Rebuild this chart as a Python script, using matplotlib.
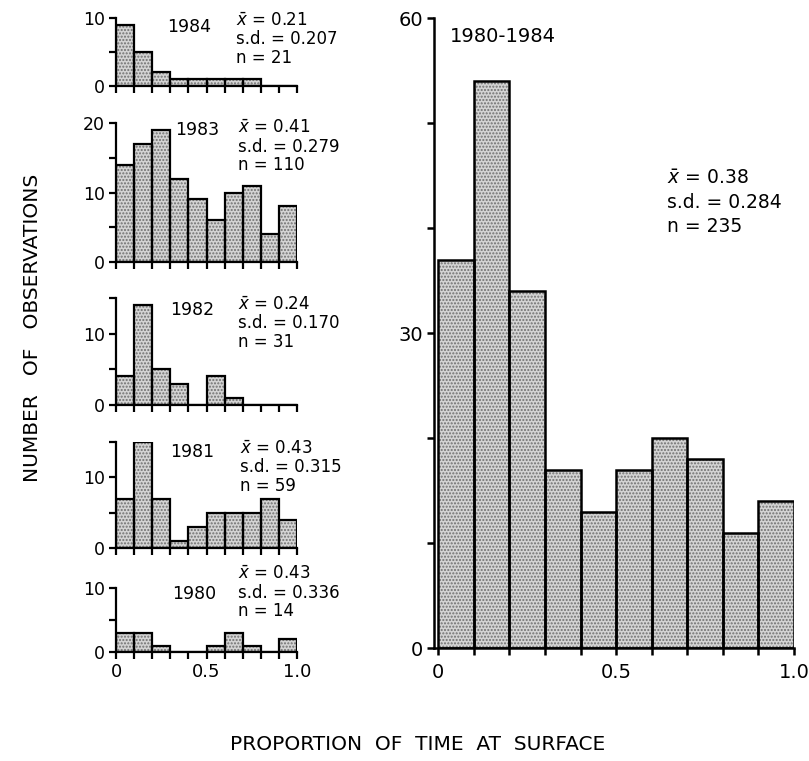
import matplotlib
matplotlib.use("Agg")
import matplotlib.pyplot as plt
from matplotlib.ticker import MultipleLocator

plt.rcParams['font.family'] = ['DejaVu Sans']
plt.rcParams['mathtext.fontset'] = 'dejavusans'

bin_left = [0.0, 0.1, 0.2, 0.3, 0.4, 0.5, 0.6, 0.7, 0.8, 0.9]
bin_width = 0.1

years = ['1984', '1983', '1982', '1981', '1980']
counts_1984 = [9, 5, 2, 1, 1, 1, 1, 1, 0, 0]
counts_1983 = [14, 17, 19, 12, 9, 6, 10, 11, 4, 8]
counts_1982 = [4, 14, 5, 3, 0, 4, 1, 0, 0, 0]
counts_1981 = [7, 15, 7, 1, 3, 5, 5, 5, 7, 4]
counts_1980 = [3, 3, 1, 0, 0, 1, 3, 1, 0, 2]
counts_all = [37, 54, 34, 17, 13, 17, 20, 18, 11, 14]

means = ['0.21', '0.41', '0.24', '0.43', '0.43']
sds = ['0.207', '0.279', '0.170', '0.315', '0.336']
ns = ['21', '110', '31', '59', '14']
mean_all, sd_all, n_all = '0.38', '0.284', '235'

y_max = [10, 20, 15, 15, 10]
y_labels = [[0, 10], [0, 10, 20], [0, 10], [0, 10], [0, 10]]

W, H = 809, 761
fig = plt.figure(figsize=(W / 100, H / 100), dpi=100)


def px_axes(x0, y0, x1, y1):
    # pixel box (top-left origin) -> figure axes
    return fig.add_axes([x0 / W, 1 - y1 / H, (x1 - x0) / W, (y1 - y0) / H])


def px_text(x, y, s, size=12.5, **kw):
    fig.text(x / W, 1 - y / H, s, fontsize=size, va='center', ha='left', **kw)


def draw_bars(ax, counts, lw):
    ax.bar(bin_left, counts, width=bin_width, align='edge', color='#d4d4d4',
           hatch='.....', edgecolor='#707070', linewidth=0)
    ax.bar(bin_left, counts, width=bin_width, align='edge', fill=False,
           edgecolor='black', linewidth=lw)


def style_axes(ax, lw, size):
    for s in ['top', 'right']:
        ax.spines[s].set_visible(False)
    for s in ['left', 'bottom']:
        ax.spines[s].set_linewidth(lw)
    ax.xaxis.set_major_locator(MultipleLocator(0.1))
    ax.tick_params(axis='both', which='both', direction='out', width=lw,
                   length=5, labelsize=size, pad=3)


small_counts = [counts_1984, counts_1983, counts_1982, counts_1981, counts_1980]
boxes = [(116, 18, 297, 86), (116, 123, 297, 262), (116, 298, 297, 405),
         (116, 442, 297, 548), (116, 588, 297, 652)]
year_pos = [(167, 27), (175, 130), (170, 310), (170, 452), (172, 594)]
stat_pos = [(236, 21), (238, 128), (238, 305), (240, 449), (238, 574)]

for i, counts in enumerate(small_counts):
    ax = px_axes(*boxes[i])
    draw_bars(ax, counts, 1.6)
    style_axes(ax, 1.6, 12.5)
    ax.set_xlim(0, 1.0)
    ax.set_ylim(0, y_max[i])
    ax.set_yticks(y_labels[i])
    ax.yaxis.set_minor_locator(MultipleLocator(5))
    if i == len(small_counts) - 1:
        ax.set_xticks([0, 0.5, 1.0], ['0', '0.5', '1.0'])
        ax.xaxis.set_minor_locator(MultipleLocator(0.1))
        ax.tick_params(axis='x', which='major', labelsize=13)
    else:
        ax.set_xticklabels([])
    px_text(year_pos[i][0], year_pos[i][1], years[i], size=12.5)
    sx, sy = stat_pos[i]
    px_text(sx, sy, r'$\bar{x}$ = ' + means[i], size=12)
    px_text(sx, sy + 18.5, 's.d. = ' + sds[i], size=12)
    px_text(sx, sy + 37, 'n = ' + ns[i], size=12)

# pooled 1980-1984 panel
ax = px_axes(434, 18, 794, 648)
draw_bars(ax, counts_all, 1.8)
style_axes(ax, 1.8, 14)
ax.set_xlim(-0.012, 1.0)
ax.set_ylim(0, 60)
ax.set_yticks([0, 30, 60])
ax.yaxis.set_minor_locator(MultipleLocator(10))
ax.set_xticks([0, 0.5, 1.0], ['0', '0.5', '1.0'])
ax.xaxis.set_minor_locator(MultipleLocator(0.1))
ax.tick_params(axis='x', which='major', pad=6)
px_text(450, 37, '1980-1984', size=14)
px_text(667, 178, r'$\bar{x}$ = ' + mean_all, size=13.5)
px_text(667, 202, 's.d. = ' + sd_all, size=13.5)
px_text(667, 226, 'n = ' + n_all, size=13.5)

fig.text(33 / W, 1 - 328 / H, 'NUMBER   OF   OBSERVATIONS', rotation=90,
         ha='center', va='center', fontsize=14.5)
fig.text(418 / W, 1 - 745 / H, 'PROPORTION  OF  TIME  AT  SURFACE',
         ha='center', va='center', fontsize=14.5)

fig.savefig('out.png', dpi=100)
